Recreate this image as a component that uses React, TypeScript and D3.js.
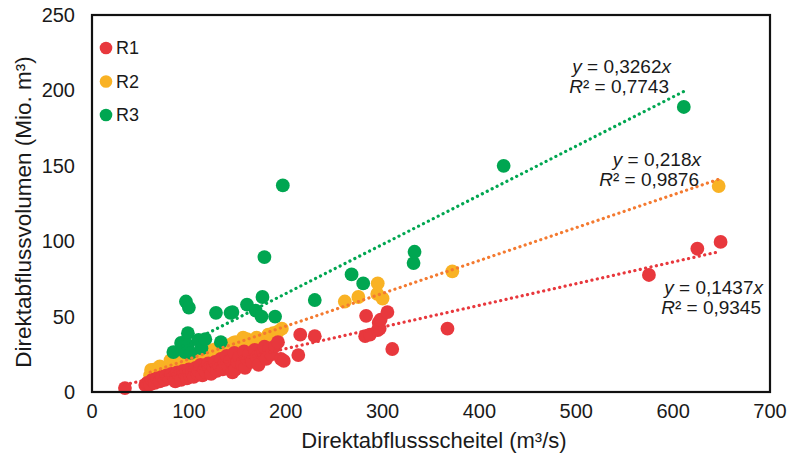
import React from "react";
import * as d3 from "d3";

// Direktabflussscheitel (m³/s) vs. Direktabflussvolumen (Mio. m³)
const r1Points: [number, number][] = [
  [34, 2.6], [55, 4.6], [57, 6], [60, 5], [62, 8], [65, 6], [67, 9], [70, 7], [72, 10], [75, 8],
  [77, 11], [80, 9], [82, 12], [85, 10], [86, 7], [88, 13], [90, 11], [92, 8], [94, 14], [96, 12],
  [98, 9], [100, 15], [101, 11], [103, 13], [105, 10], [107, 16], [109, 12], [110, 14], [112, 18],
  [114, 11], [116, 15], [118, 13], [120, 19], [121, 16], [123, 12], [125, 17], [127, 20], [129, 14],
  [131, 18], [133, 22], [135, 15], [137, 19], [139, 24], [141, 17], [143, 21], [145, 13], [147, 26],
  [148, 15], [150, 20], [152, 23], [155, 18], [157, 27], [158, 16], [160, 22], [162, 25], [165, 20],
  [168, 28], [170, 23], [172, 18], [175, 26], [177, 26], [178, 30], [180, 22], [183, 29], [185, 25],
  [189, 30.5], [192, 33], [195, 22], [198, 20.6], [213, 24.5], [215, 38], [230, 37], [282, 37],
  [283, 50.5], [287, 38], [295, 41], [296, 46], [297, 42], [298, 48], [305, 53], [310, 28.5],
  [367, 42], [575, 77.6], [625, 95], [649, 99.5],
];
const r2Points: [number, number][] = [
  [60, 11], [61, 14.6], [65, 15], [70, 17], [75, 16], [81, 21], [85, 19], [89, 24], [95, 20],
  [99, 22.5], [105, 24], [110, 22], [115, 26], [120, 26], [125, 28], [130, 29], [135, 30], [141, 31],
  [146, 32.5], [148, 33], [155, 29], [156, 36], [160, 35], [165, 34], [170, 36], [176, 34.5],
  [182, 38], [187, 39], [192, 40], [196, 42], [261, 60], [275, 63], [294.5, 65], [295, 72],
  [300, 62], [372, 80], [647, 136.6],
];
const r3Points: [number, number][] = [
  [84, 26.5], [92, 32.5], [96, 26.5], [97, 60], [99, 39], [99, 31], [100, 56], [102, 26],
  [110, 34.5], [113, 29], [117, 35], [128, 52.5], [133, 33], [143, 52.5], [145, 53], [160, 58],
  [169, 54], [175, 50], [176, 63], [178, 89.5], [189, 50], [197, 137], [230, 61], [268, 78],
  [280, 72], [332, 85.5], [333, 93], [425, 150], [611, 189],
];

const seriesNames = ["R1", "R2", "R3"];
const slopes = [0.1437, 0.218, 0.3262];
const r2Values = ["0,9345", "0,9876", "0,7743"];
const xTicks = [0, 100, 200, 300, 400, 500, 600, 700];
const yTicks = [0, 50, 100, 150, 200, 250];

const W = 789;
const H = 465;
const font = "'Liberation Sans', Arial, sans-serif";

const dotColors = ["#e8383d", "#f9b224", "#00a651"];
const lineColors = ["#e8383d", "#f47a30", "#00a651"];

export default function App() {
  const x = d3.scaleLinear().domain([0, 700]).range([92, 770]);
  const y = d3.scaleLinear().domain([0, 250]).range([392, 15]);
  const all = [r1Points, r2Points, r3Points];

  const trend = (i: number) => {
    const ext = d3.extent(all[i], (d) => d[0]) as [number, number];
    const line = d3.line<number>().x((v) => x(v)).y((v) => y(v * slopes[i]));
    return line(ext) || "";
  };

  // label placement (px) for equations
  const labelPos = [
    { x: 763, y: 294 },
    { x: 701, y: 166 },
    { x: 671, y: 73 },
  ];

  const drawOrder = [1, 2, 0];

  return (
    <svg width={W} height={H} style={{ position: "absolute", left: 0, top: 0, background: "#fff" }} fontFamily={font}>
      {drawOrder.map((i) => (
        <g key={seriesNames[i]}>
          {all[i].map((d, k) => (
            <circle key={k} cx={x(d[0])} cy={y(d[1])} r={6.9} fill={dotColors[i]} />
          ))}
        </g>
      ))}
      {[0, 1, 2].map((i) => (
        <path
          key={"t" + i}
          d={trend(i)}
          fill="none"
          stroke={lineColors[i]}
          strokeWidth={3.2}
          strokeDasharray="0.1 5.4"
          strokeLinecap="round"
        />
      ))}
      <rect x={92} y={15} width={678} height={377} fill="none" stroke="#111" strokeWidth={2.2} />

      {yTicks.map((t) => (
        <text key={"y" + t} x={75} y={y(t)} dy="0.35em" textAnchor="end" fontSize={20} fill="#1a1a1a">
          {t}
        </text>
      ))}
      {xTicks.map((t) => (
        <text key={"x" + t} x={x(t)} y={418} textAnchor="middle" fontSize={20} fill="#1a1a1a">
          {t}
        </text>
      ))}
      <text x={434} y={448} textAnchor="middle" fontSize={22} fill="#1a1a1a">
        Direktabflussscheitel (m³/s)
      </text>
      <text transform={`translate(31,212) rotate(-90)`} textAnchor="middle" fontSize={22.5} fill="#1a1a1a">
        Direktabflussvolumen (Mio. m³)
      </text>

      {seriesNames.map((n, i) => (
        <g key={"l" + n}>
          <circle cx={106} cy={48 + i * 33.5} r={6.3} fill={dotColors[i]} />
          <text x={116} y={48 + i * 33.5} dy="0.35em" fontSize={18} fill="#1a1a1a">
            {n}
          </text>
        </g>
      ))}

      {labelPos.map((p, i) => (
        <g key={"eq" + i} fontSize={19} fill="#1a1a1a" textAnchor="end">
          <text x={p.x} y={p.y}>
            <tspan fontStyle="italic">y</tspan> = {String(slopes[i]).replace(".", ",")}
            <tspan fontStyle="italic">x</tspan>
          </text>
          <text x={p.x - 2} y={p.y + 20}>
            <tspan fontStyle="italic">R</tspan>² = {r2Values[i]}
          </text>
        </g>
      ))}
    </svg>
  );
}
